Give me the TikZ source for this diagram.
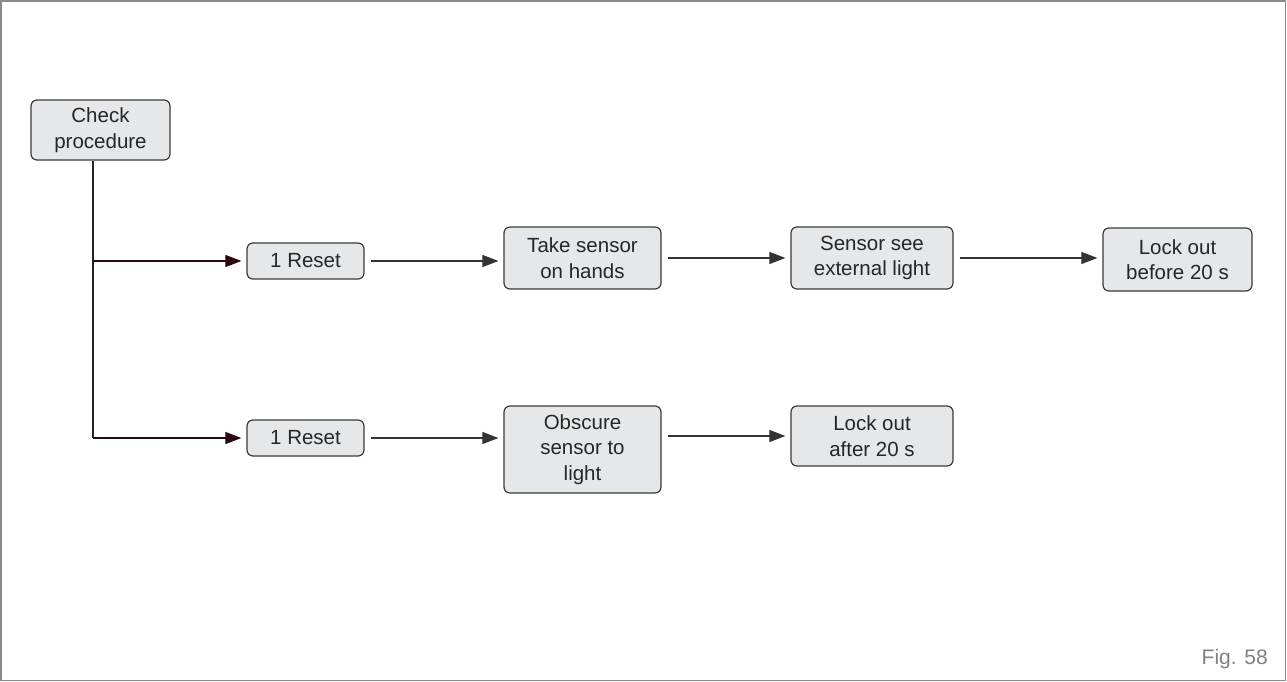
\documentclass[tikz,border=0pt]{standalone}
\usepackage{fontspec}
\setmainfont{Liberation Sans}
\usetikzlibrary{arrows.meta}
\definecolor{boxfill}{HTML}{E6E7E9}
\definecolor{boxdraw}{HTML}{3A3A3A}
\definecolor{arrdark}{HTML}{2A0A0E}
\definecolor{framegray}{HTML}{8A8A8A}
\begin{document}
\begin{tikzpicture}[x=1pt,y=-1pt,
  stepbox/.style={draw=boxdraw,fill=boxfill,line width=1.2pt,rounded corners=6pt,
    align=center,inner sep=0pt,font=\fontsize{20.5}{25.5}\selectfont,text=black!85},
  conn/.style={line width=1.1pt,draw=black!80,-{Triangle[length=16pt,width=12pt]},shorten <=6pt,shorten >=5pt},
  connred/.style={line width=1.1pt,draw=arrdark,-{Triangle[length=16pt,width=12pt]},shorten >=5pt}]
\useasboundingbox (0,0) rectangle (1287,682);
\draw[framegray,line width=1.8pt] (1,1) rectangle (1285.5,680.5);
% boxes
\node[stepbox,minimum width=139pt,minimum height=60pt] (cp) at (100.5,130) {Check\\procedure};
\node[stepbox,minimum width=117pt,minimum height=36pt] (r1) at (305.5,261) {1 Reset};
\node[stepbox,minimum width=157pt,minimum height=62pt] (ts) at (582.5,258) {Take sensor\\on hands};
\node[stepbox,minimum width=162pt,minimum height=62pt] (se) at (872,258) {Sensor see\\external light};
\node[stepbox,minimum width=149pt,minimum height=63pt] (lb) at (1177.5,259.5) {Lock out\\before 20 s};
\node[stepbox,minimum width=117pt,minimum height=36pt] (r2) at (305.5,438) {1 Reset};
\node[stepbox,minimum width=157pt,minimum height=87pt] (ob) at (582.5,449.5) {Obscure\\sensor to\\light};
\node[stepbox,minimum width=162pt,minimum height=60pt] (la) at (872,436) {Lock out\\after 20 s};
\coordinate (j1) at (93,261);
\coordinate (j2) at (93,438);
% connectors
\draw[line width=1.1pt,draw=black!85] (cp.south -| j1) -- (j2);
\draw[connred] (j1) -- (r1.west);
\draw[connred] (j2) -- (r2.west);
\draw[conn] (r1.east) -- (r1.east -| ts.west);
\draw[conn] (ts.east |- se.west) -- (se.west);
\draw[conn] (se.east) -- (se.east -| lb.west);
\draw[conn] (r2.east) -- (r2.east -| ob.west);
\draw[conn] (ob.east |- la.west) -- (la.west);
\node[anchor=base east,font=\fontsize{21}{25}\selectfont,text=black!50,inner sep=0pt] (fig) at (1268,664) {Fig. 58};
\end{tikzpicture}
\end{document}
